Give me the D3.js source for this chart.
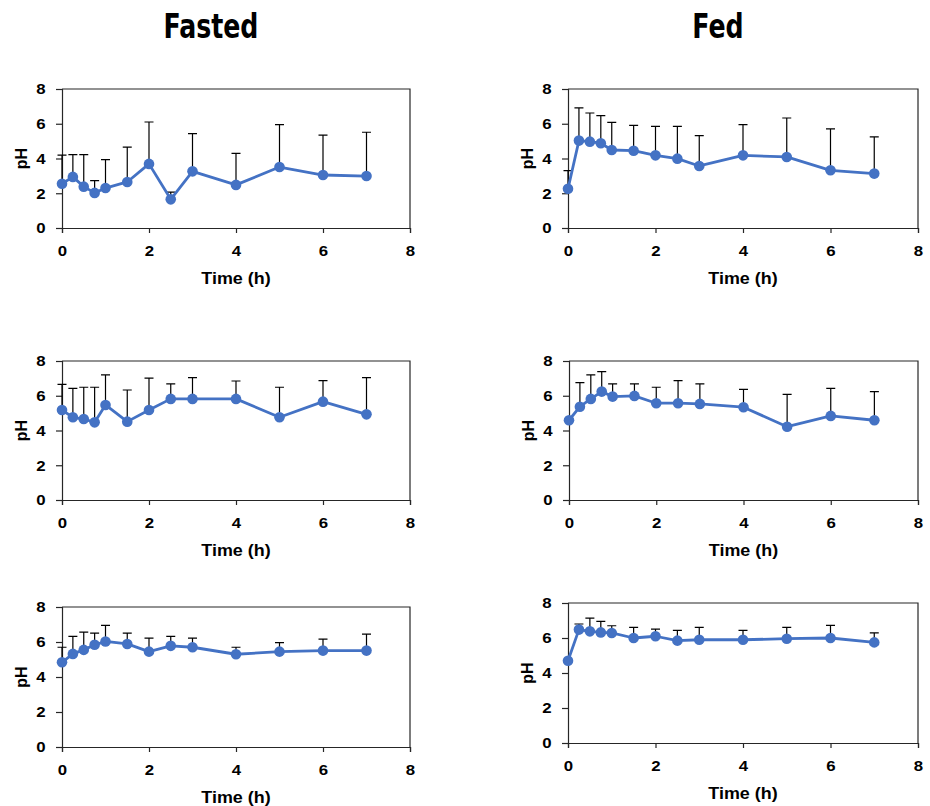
<!DOCTYPE html>
<html>
<head>
<meta charset="utf-8">
<script src="https://cdn.jsdelivr.net/npm/d3@7"></script>
<style>
  html, body { margin: 0; padding: 0; background: #fff; }
  svg text { font-family: "Liberation Sans", Arial, sans-serif; font-weight: bold; fill: #000; }
  .wide { transform-box: fill-box; transform-origin: center; transform: scaleX(1.12); }
  .title { font-family: "Liberation Sans Narrow", "DejaVu Sans Condensed", sans-serif; font-size: 33px;
           transform-box: fill-box; transform-origin: center; transform: scaleX(0.85); }
</style>
</head>
<body>
<svg id="chart" width="930" height="806"></svg>
<script>
// Sampling times (h)
const times = [0, 0.25, 0.5, 0.75, 1, 1.5, 2, 2.5, 3, 4, 5, 6, 7];

// Axis ticks
const xTicks = [0, 2, 4, 6, 8];
const yTicks = [0, 2, 4, 6, 8];

// Column headings
const columnTitles = ["Fasted", "Fed"];

// Mean pH and upper SD per region, fasted state
const fasted1Mean = [2.55, 2.94, 2.38, 2.02, 2.30, 2.65, 3.69, 1.65, 3.26, 2.48, 3.51, 3.05, 2.99];
const fasted1SD   = [1.65, 1.28, 1.84, 0.71, 1.63, 2.01, 2.41, 0.42, 2.17, 1.82, 2.44, 2.29, 2.52];
const fasted2Mean = [5.18, 4.76, 4.66, 4.47, 5.47, 4.51, 5.18, 5.82, 5.82, 5.82, 4.76, 5.66, 4.93];
const fasted2SD   = [1.48, 1.67, 1.83, 2.02, 1.73, 1.82, 1.83, 0.86, 1.22, 1.03, 1.73, 1.21, 2.11];
const fasted3Mean = [4.84, 5.32, 5.55, 5.84, 6.03, 5.89, 5.45, 5.78, 5.70, 5.30, 5.45, 5.51, 5.51];
const fasted3SD   = [0.86, 1.00, 1.01, 0.67, 0.92, 0.62, 0.77, 0.54, 0.52, 0.40, 0.52, 0.65, 0.94];

// Mean pH and upper SD per region, fed state
const fed1Mean = [2.26, 5.03, 4.97, 4.88, 4.49, 4.45, 4.18, 3.99, 3.57, 4.18, 4.09, 3.32, 3.13];
const fed1SD   = [1.04, 1.88, 1.65, 1.59, 1.59, 1.46, 1.67, 1.86, 1.75, 1.77, 2.24, 2.38, 2.11];
const fed2Mean = [4.59, 5.37, 5.82, 6.24, 5.95, 5.99, 5.57, 5.57, 5.53, 5.34, 4.22, 4.84, 4.59];
const fed2SD   = [0, 1.39, 1.38, 1.15, 0.73, 0.69, 0.92, 1.30, 1.15, 1.03, 1.86, 1.59, 1.65];
const fed3Mean = [4.70, 6.48, 6.38, 6.32, 6.29, 6.00, 6.10, 5.85, 5.90, 5.90, 5.96, 6.00, 5.75];
const fed3SD   = [0, 0.32, 0.76, 0.63, 0.41, 0.61, 0.41, 0.59, 0.71, 0.54, 0.65, 0.72, 0.54];

// Panel frames: left, right, top, bottom in pixels
const panels = [
  { mean: fasted1Mean, sd: fasted1SD, x0: 62,  x1: 410, y0: 89,  y1: 228 },
  { mean: fed1Mean,    sd: fed1SD,    x0: 568, x1: 918, y0: 89,  y1: 228 },
  { mean: fasted2Mean, sd: fasted2SD, x0: 62,  x1: 410, y0: 361, y1: 500 },
  { mean: fed2Mean,    sd: fed2SD,    x0: 569, x1: 918, y0: 361, y1: 500 },
  { mean: fasted3Mean, sd: fasted3SD, x0: 62,  x1: 410, y0: 607, y1: 747 },
  { mean: fed3Mean,    sd: fed3SD,    x0: 568, x1: 918, y0: 603, y1: 743 }
];

const svg = d3.select("#chart");
const blue = "#4472C4";
const axisColor = "#262626";

// Column headings
svg.selectAll("text.title")
  .data(columnTitles)
  .join("text")
  .attr("class", "title")
  .attr("x", (d, i) => i === 0 ? 211 : 718)
  .attr("y", 38)
  .attr("text-anchor", "middle")
  .text(d => d);

panels.forEach(p => {
  const x = d3.scaleLinear().domain([0, 8]).range([p.x0, p.x1]);
  const y = d3.scaleLinear().domain([0, 8]).range([p.y1, p.y0]);
  const g = svg.append("g");

  // Frame top and right
  g.append("path")
    .attr("d", `M${p.x0},${p.y0}H${p.x1}V${p.y1}`)
    .attr("fill", "none")
    .attr("stroke", axisColor)
    .attr("stroke-width", 1.2);

  const xAxis = g.append("g")
    .attr("transform", `translate(0,${p.y1})`)
    .call(d3.axisBottom(x).tickValues(xTicks).tickFormat(d3.format("d")).tickSizeOuter(0).tickSize(5).tickPadding(12));
  const yAxis = g.append("g")
    .attr("transform", `translate(${p.x0},0)`)
    .call(d3.axisLeft(y).tickValues(yTicks).tickFormat(d3.format("d")).tickSizeOuter(0).tickSize(6).tickPadding(11));

  [xAxis, yAxis].forEach(a => {
    a.select(".domain").attr("stroke", axisColor).attr("stroke-width", 1.2);
    a.selectAll(".tick line").attr("stroke", axisColor).attr("stroke-width", 1.2);
    a.selectAll(".tick text")
      .attr("class", "wide")
      .style("font-size", "15px")
      .style("font-family", "'Liberation Sans', Arial, sans-serif")
      .style("font-weight", "bold")
      .attr("fill", "#000");
  });

  // Axis titles
  g.append("text")
    .attr("class", "wide")
    .attr("x", (p.x0 + p.x1) / 2)
    .attr("y", p.y1 + 56)
    .attr("text-anchor", "middle")
    .style("font-size", "16px")
    .text("Time (h)");
  g.append("g")
    .attr("transform", `translate(${p.x0 - 35},${(p.y0 + p.y1) / 2}) rotate(-90)`)
    .append("text")
    .attr("text-anchor", "middle")
    .style("font-size", "16px")
    .text("pH");

  const pts = times.map((t, i) => ({ t, m: p.mean[i], s: p.sd[i] }));

  // Upper error bars
  const eb = g.append("g").attr("stroke", "#000").attr("stroke-width", 1.2).attr("fill", "none");
  eb.selectAll("path")
    .data(pts.filter(d => d.s > 0))
    .join("path")
    .attr("d", d => {
      const cx = x(d.t), top = y(d.m + d.s);
      return `M${cx},${y(d.m)}V${top}M${cx - 4.5},${top}H${cx + 4.5}`;
    });

  // Mean line
  g.append("path")
    .datum(pts)
    .attr("fill", "none")
    .attr("stroke", blue)
    .attr("stroke-width", 2.8)
    .attr("stroke-linejoin", "round")
    .attr("d", d3.line().x(d => x(d.t)).y(d => y(d.m)));

  // Markers
  g.selectAll("circle")
    .data(pts)
    .join("circle")
    .attr("cx", d => x(d.t))
    .attr("cy", d => y(d.m))
    .attr("r", 5.3)
    .attr("fill", blue);
});
</script>
</body>
</html>
